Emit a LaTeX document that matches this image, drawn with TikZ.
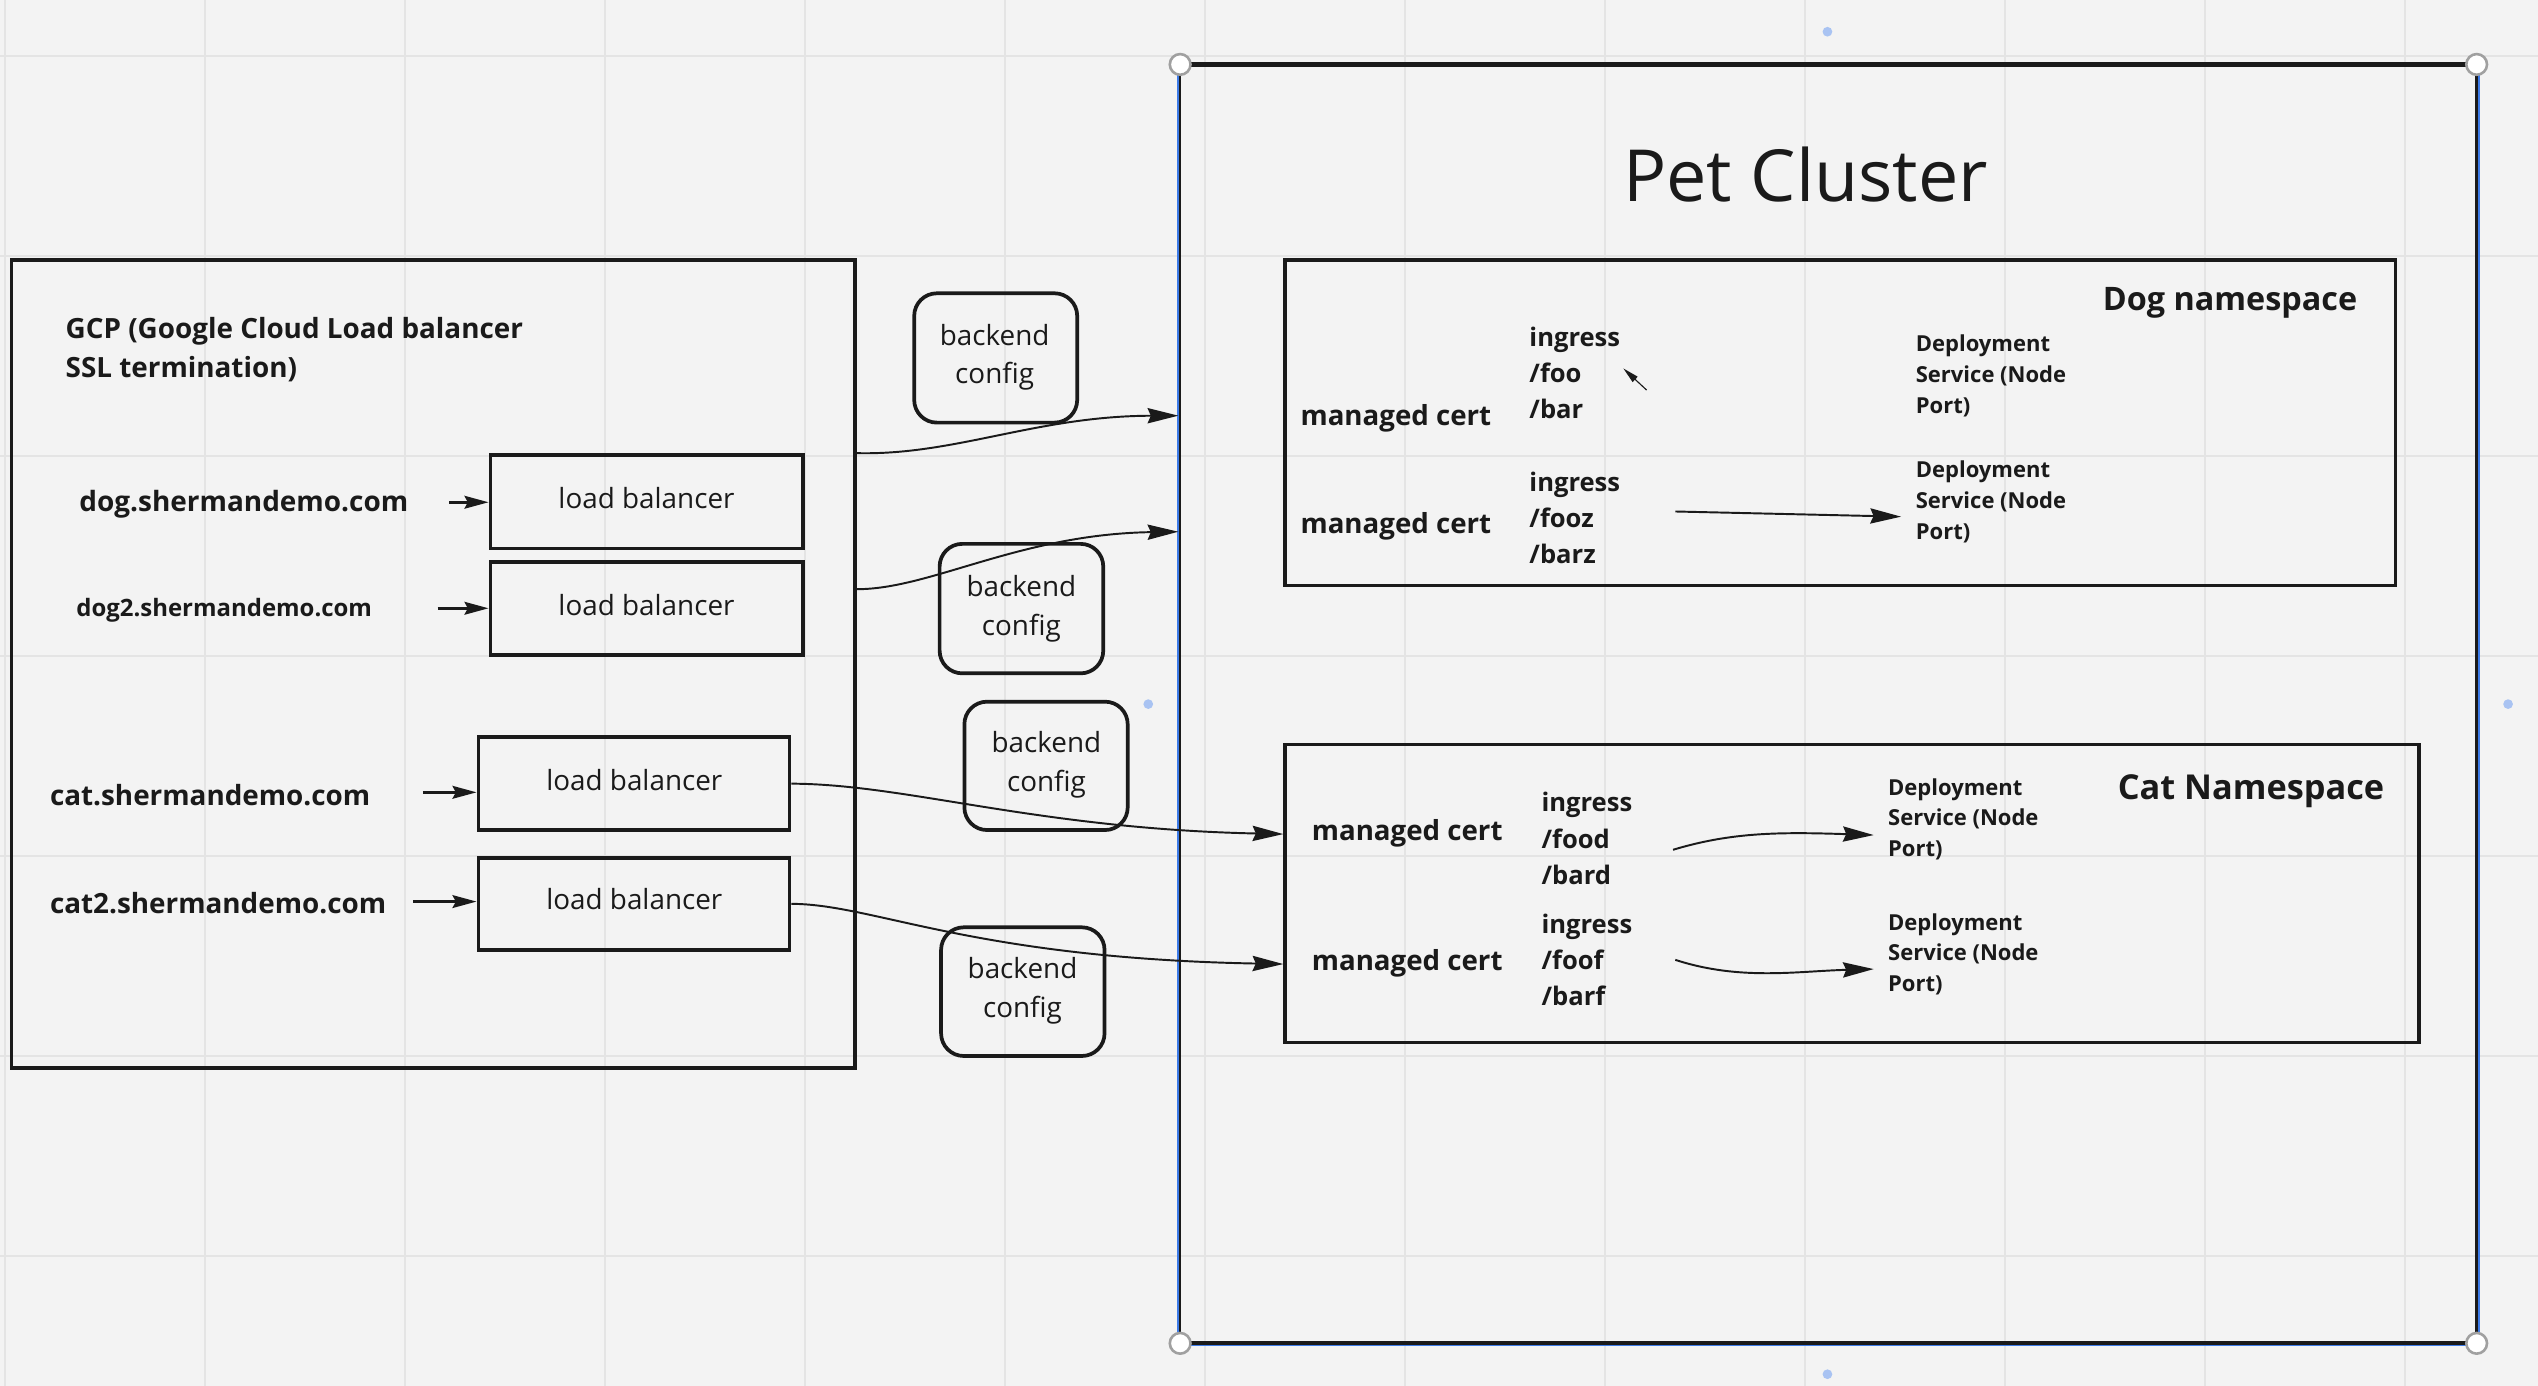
\documentclass[tikz,border=0pt]{standalone}
\usepackage{fontspec}
\setmainfont{Open Sans}
\usetikzlibrary{arrows.meta,fit}
\definecolor{bg}{HTML}{F3F3F3}
\definecolor{gridc}{HTML}{E4E4E4}
\definecolor{ink}{HTML}{1A1A1A}
\definecolor{selblue}{HTML}{3D7BE8}
\definecolor{dotblue}{HTML}{A9C3F2}
\definecolor{handlegray}{HTML}{A0A0A0}
\begin{document}
\begin{tikzpicture}[x=0.5pt,y=-0.5pt,
  box/.style={draw=ink, line width=1.15pt, inner sep=0pt},
  rbox/.style={draw=ink, line width=1.15pt, inner sep=0pt, rounded corners=7pt},
  lbl/.style={inner sep=0pt, anchor=base west, text=ink, align=left},
  clbl/.style={inner sep=0pt, anchor=base, text=ink, align=center},
  conn/.style={draw=ink, line width=0.6pt, -{Stealth[length=9.5pt,width=4.7pt,inset=1pt]}},
  sconn/.style={draw=ink, line width=1pt, -{Stealth[length=7.4pt,width=3.9pt,inset=1pt]}},
  tconn/.style={draw=ink, line width=0.35pt, -{Triangle[length=5pt,width=2.2pt]}},
  bfont/.style={font=\bfseries\fontsize{#1}{#1}\selectfont},
  ingfont/.style={font=\bfseries\fontsize{7.9}{11.15}\selectfont},
  depfont/.style={font=\bfseries\fontsize{6.8}{9.5}\selectfont},
  regfont/.style={font=\fontsize{8.6}{12}\selectfont},
]
\useasboundingbox (0,0) rectangle (1568,856);
\fill[bg] (0,0) rectangle (1568,856);
% grid
\foreach \k in {0,...,12} \draw[gridc, line width=0.6pt] ({3.09+123.56*\k},0) -- ({3.09+123.56*\k},856);
\foreach \k in {0,...,6} \draw[gridc, line width=0.6pt] (0,{34.6+123.56*\k}) -- (1568,{34.6+123.56*\k});

% Pet cluster
\node[fit={(729.5,40.2) (1529.7,829.5)}, inner sep=0pt] (pet) {};
\draw[selblue, line width=0.6pt] ([xshift=-0.6pt,yshift=0.6pt]pet.north west) rectangle ([xshift=0.6pt,yshift=-0.6pt]pet.south east);
\draw[ink, line width=0.8pt] (pet.north west) -- (pet.south west) (pet.north east) -- (pet.south east);
\draw[ink, line width=1.3pt] (pet.north west) -- (pet.north east) (pet.south west) -- (pet.south east);
\foreach \a in {north west,north east,south west,south east}
  \filldraw[fill=white, draw=handlegray, line width=0.8pt] (pet.\a) circle[radius=3.2pt];
\fill[dotblue] (1129,19.6) circle[radius=1.5pt];
\fill[dotblue] (1129,849) circle[radius=1.5pt];
\fill[dotblue] (709.4,435) circle[radius=1.5pt];
\fill[dotblue] (1549.5,435) circle[radius=1.5pt];
\node[clbl, font=\fontsize{22.2}{26}\selectfont] (pettitle) at (1115.5,124.6) {Pet Cluster};

% GCP box
\node[box, fit={(7.1,160.6) (528,659.6)}] (gcp) {};
\node[lbl, font=\bfseries\fontsize{8.6}{12}\selectfont] (gcptitle) at (40.2,233.1) {GCP (Google Cloud Load balancer\\SSL termination)};
\node[lbl, bfont=8.63] (dogd) at (48.7,316) {dog.shermandemo.com};
\node[lbl, bfont=7.4] (dog2d) at (46.8,381) {dog2.shermandemo.com};
\node[lbl, bfont=8.6] (catd) at (30.5,497.8) {cat.shermandemo.com};
\node[lbl, bfont=8.6] (cat2d) at (30.5,564.3) {cat2.shermandemo.com};

% load balancers
\node[box, fit={(303,281.1) (495.9,338.8)}] (lb1) {};
\node[box, fit={(303,347.4) (495.9,404.7)}] (lb2) {};
\node[box, fit={(295.6,455.5) (487.7,512.8)}] (lb3) {};
\node[box, fit={(295.6,529.9) (487.7,586.9)}] (lb4) {};
\node[clbl, regfont] (lb1t) at (399.4,314) {load balancer};
\node[clbl, regfont] (lb2t) at (399.4,380.4) {load balancer};
\node[clbl, regfont] (lb3t) at (391.9,488.1) {load balancer};
\node[clbl, regfont] (lb4t) at (391.9,562.2) {load balancer};

% domain arrows
\coordinate (dogs) at (277.4,310.3); \coordinate (doge) at (lb1.west |- dogs);
\coordinate (dog2s) at (270.4,375.8); \coordinate (dog2e) at (lb2.west |- dog2s);
\coordinate (cats) at (261.3,489.5); \coordinate (cate) at (lb3.west |- cats);
\coordinate (cat2s) at (255.2,557); \coordinate (cat2e) at (lb4.west |- cat2s);
\draw[sconn] (dogs) -- (doge);
\draw[sconn] (dog2s) -- (dog2e);
\draw[sconn] (cats) -- (cate);
\draw[sconn] (cat2s) -- (cat2e);

% backend configs
\node[rbox, fit={(564.8,181.2) (665.5,261.1)}] (bc1) {};
\node[rbox, fit={(580.5,336) (681.6,416)}] (bc2) {};
\node[rbox, fit={(595.8,433.5) (696.7,512.8)}] (bc3) {};
\node[rbox, fit={(581.4,572.9) (682.4,652.4)}] (bc4) {};
\node[clbl, regfont] (bc1t) at (614.5,237.2) {backend\\config};
\node[clbl, regfont] (bc2t) at (631,392.7) {backend\\config};
\node[clbl, regfont] (bc3t) at (646.5,489.1) {backend\\config};
\node[clbl, regfont] (bc4t) at (631.7,628.5) {backend\\config};

% Dog namespace
\node[box, fit={(794,160.6) (1480,361.8)}] (dogns) {};
\node[lbl, bfont=10] (dognst) at (1298.8,191.9) {Dog namespace};
\node[lbl, bfont=8.55] (dogc1) at (803.1,262.6) {managed cert};
\node[lbl, bfont=8.55] (dogc2) at (803.1,329.5) {managed cert};
\node[lbl, ingfont] (dogi1) at (944.5,258.5) {ingress\\/foo\\/bar};
\node[lbl, ingfont] (dogi2) at (944.5,348) {ingress\\/fooz\\/barz};
\node[lbl, depfont] (dogs1) at (1183.2,255.4) {Deployment\\Service (Node\\Port)};
\node[lbl, depfont] (dogs2) at (1183.2,333.2) {Deployment\\Service (Node\\Port)};

% Cat namespace
\node[box, fit={(794,460) (1494.5,644)}] (catns) {};
\node[lbl, bfont=10.6] (catnst) at (1308,493.8) {Cat Namespace};
\node[lbl, bfont=8.55] (catc1) at (810.1,519) {managed cert};
\node[lbl, bfont=8.55] (catc2) at (810.1,599.3) {managed cert};
\node[lbl, ingfont] (cati1) at (952,546.2) {ingress\\/food\\/bard};
\node[lbl, ingfont] (cati2) at (952,621.1) {ingress\\/foof\\/barf};
\node[lbl, depfont] (cats1) at (1166.1,529.3) {Deployment\\Service (Node\\Port)};
\node[lbl, depfont] (cats2) at (1166.1,612.7) {Deployment\\Service (Node\\Port)};

% main connectors
\coordinate (c1s) at (gcp.east |- lb1.north);
\coordinate (c1e) at (728,256.8);
\draw[conn] (c1s) .. controls (590,281.5) and (640,257) .. (c1e);
\coordinate (c2s) at (529.5,364);
\coordinate (c2e) at (728,328.5);
\draw[conn] (c2s) .. controls (575,364) and (630,330) .. (c2e);
\coordinate (c3e) at (catns.west |- 0,515.3);
\draw[conn] (lb3.east) .. controls (560,484.4) and (640,512) .. (c3e);
\coordinate (c4e) at (catns.west |- 0,595.6);
\draw[conn] (lb4.east) .. controls (540,558.5) and (600,592) .. (c4e);

% namespace internal arrows
\coordinate (ta1s) at (1017.3,241); \coordinate (ta1e) at (1002.9,227.6);
\draw[tconn] (ta1s) -- (ta1e);
\coordinate (da2s) at (1035,316); \coordinate (da2e) at (1174.5,319.2);
\draw[conn] (da2s) -- (da2e);
\coordinate (ca1s) at (1033.6,525); \coordinate (ca1e) at (1157.6,515.9);
\draw[conn] (ca1s) .. controls (1070,514) and (1100,514) .. (ca1e);
\coordinate (ca2s) at (1035,593); \coordinate (ca2e) at (1157.6,598.7);
\draw[conn] (ca2s) .. controls (1075,606) and (1110,600) .. (ca2e);
\end{tikzpicture}
\end{document}
